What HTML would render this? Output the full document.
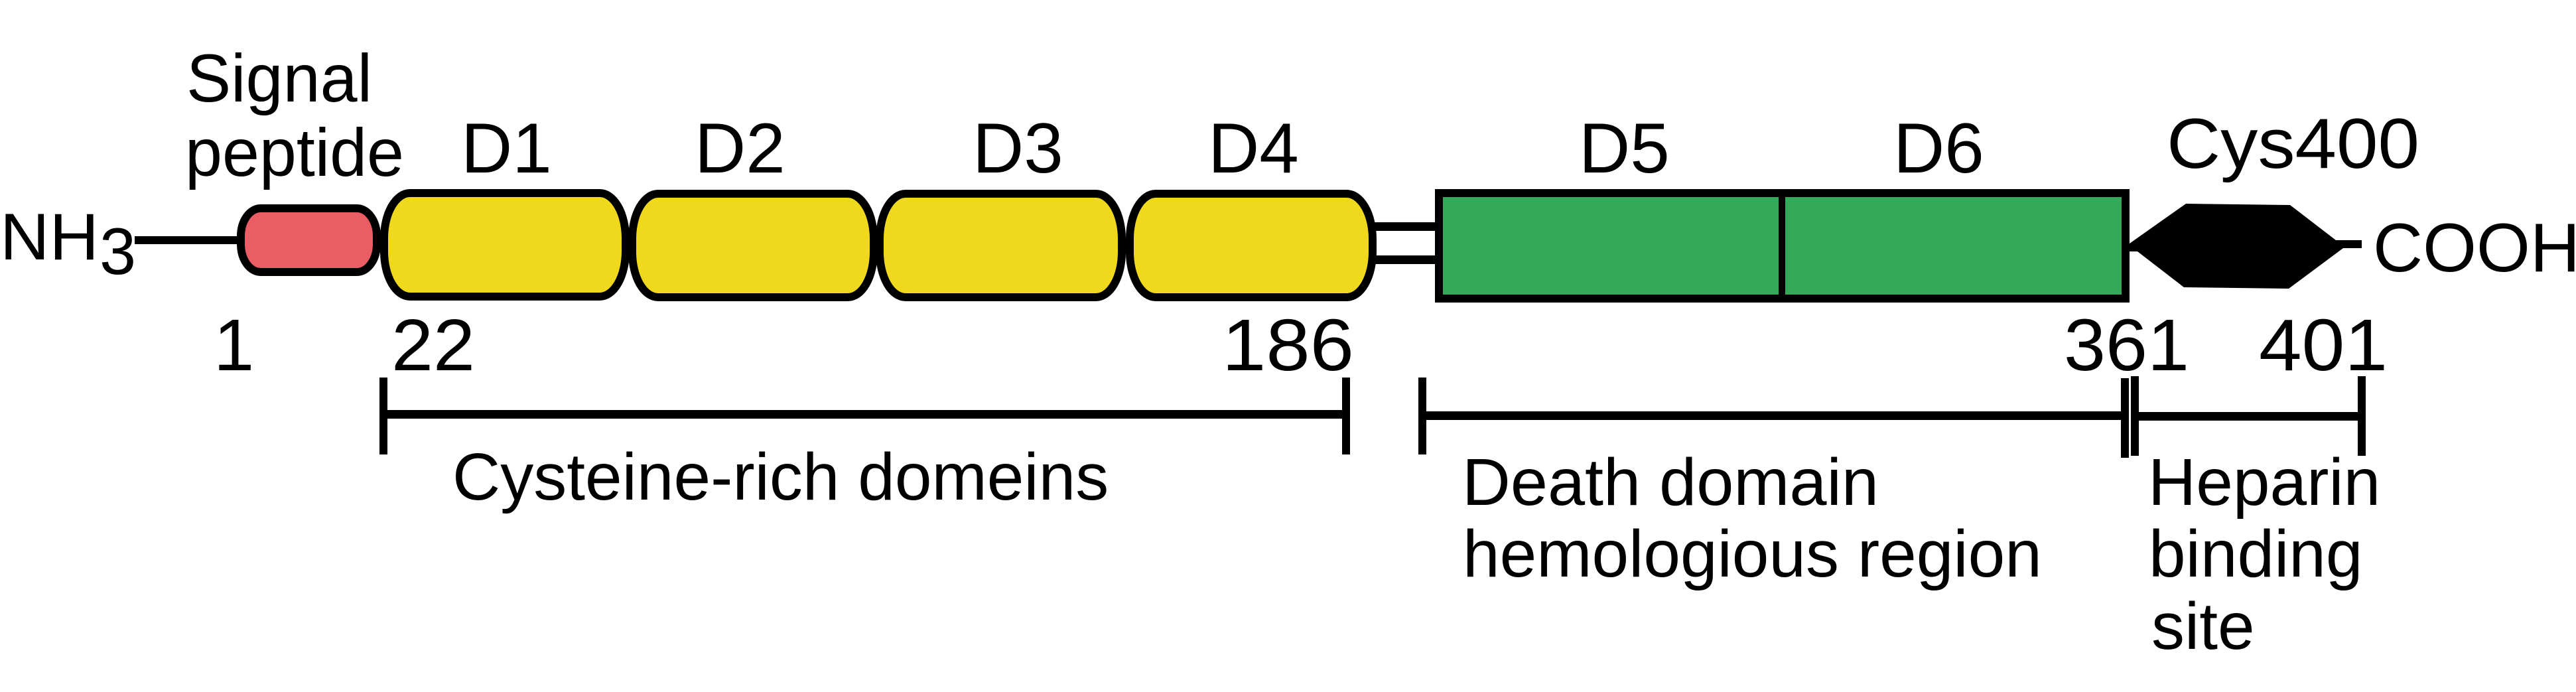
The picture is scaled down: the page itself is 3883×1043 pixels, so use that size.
<!DOCTYPE html>
<html>
<head>
<meta charset="utf-8">
<style>
  html, body { margin: 0; padding: 0; background: #ffffff; }
  svg { display: block; }
  text { font-family: "Liberation Sans", Arial, sans-serif; fill: #000; }
</style>
</head>
<body>
<svg width="3883" height="1043" viewBox="0 0 3883 1043" xmlns="http://www.w3.org/2000/svg">
  <rect x="0" y="0" width="3883" height="1043" fill="#ffffff"/>

  <!-- NH3 connector line -->
  <rect x="203" y="356" width="160" height="12" fill="#000"/>

  <!-- Linker between D4 and D5 -->
  <rect x="2066" y="335" width="104" height="13" fill="#000"/>
  <rect x="2066" y="385" width="104" height="13" fill="#000"/>

  <!-- Signal peptide (red pill) -->
  <rect x="363" y="314" width="205" height="96" rx="30" ry="42" fill="#EA5D65" stroke="#000" stroke-width="12"/>

  <!-- D1-D4 yellow pills -->
  <rect x="579" y="291" width="364" height="156" rx="39" ry="68" fill="#F0D91D" stroke="#000" stroke-width="12"/>
  <rect x="953" y="292" width="364" height="156" rx="39" ry="68" fill="#F0D91D" stroke="#000" stroke-width="12"/>
  <rect x="1326" y="292" width="365" height="156" rx="39" ry="68" fill="#F0D91D" stroke="#000" stroke-width="12"/>
  <rect x="1703" y="292" width="366" height="156" rx="39" ry="68" fill="#F0D91D" stroke="#000" stroke-width="12"/>

  <!-- D5/D6 green box -->
  <rect x="2169" y="291" width="1035" height="159" fill="#35A95A" stroke="#000" stroke-width="12"/>
  <rect x="2681" y="291" width="10" height="159" fill="#000"/>

  <!-- Cys400 hexagon + tail -->
  <polygon points="3210,367 3295,307 3452,309 3521,362 3560,362 3560,374 3532,374 3450,435 3292,433 3222,379 3210,379" fill="#000"/>

  <!-- Top labels -->
  <text x="281" y="153" font-size="102" textLength="280" lengthAdjust="spacingAndGlyphs">Signal</text>
  <text x="279" y="265" font-size="102" textLength="330" lengthAdjust="spacingAndGlyphs">peptide</text>

  <text x="695" y="260" font-size="107">D1</text>
  <text x="1047" y="260" font-size="107">D2</text>
  <text x="1466" y="260" font-size="107">D3</text>
  <text x="1821" y="260" font-size="107">D4</text>
  <text x="2380" y="260" font-size="107">D5</text>
  <text x="2854" y="260" font-size="107">D6</text>

  <text x="3266" y="253" font-size="107" textLength="381" lengthAdjust="spacingAndGlyphs">Cys400</text>

  <!-- NH3 and COOH -->
  <text x="0" y="391" font-size="99" textLength="149" lengthAdjust="spacingAndGlyphs">NH</text>
  <text x="150" y="413" font-size="99">3</text>
  <text x="3577" y="409" font-size="104">COOH</text>

  <!-- Residue numbers -->
  <text x="322" y="558" font-size="110">1</text>
  <text x="590" y="558" font-size="110" textLength="126" lengthAdjust="spacingAndGlyphs">22</text>
  <text x="1842" y="558" font-size="110" textLength="199" lengthAdjust="spacingAndGlyphs">186</text>
  <text x="3111" y="558" font-size="110" textLength="189" lengthAdjust="spacingAndGlyphs">361</text>
  <text x="3405" y="558" font-size="110" textLength="194" lengthAdjust="spacingAndGlyphs">401</text>

  <!-- Brackets -->
  <rect x="572" y="569" width="12" height="116" fill="#000"/>
  <rect x="578" y="618" width="1451" height="13" fill="#000"/>
  <rect x="2023" y="569" width="12" height="116" fill="#000"/>

  <rect x="2138" y="569" width="12" height="116" fill="#000"/>
  <rect x="2144" y="620" width="1059" height="13" fill="#000"/>
  <rect x="3197" y="570" width="12" height="120" fill="#000"/>

  <rect x="3212" y="567" width="12" height="120" fill="#000"/>
  <rect x="3218" y="621" width="342" height="13" fill="#000"/>
  <rect x="3554" y="567" width="12" height="120" fill="#000"/>

  <!-- Bottom labels -->
  <text x="682" y="753" font-size="100">Cysteine-rich domeins</text>
  <text x="2204" y="761" font-size="100" textLength="628" lengthAdjust="spacingAndGlyphs">Death domain</text>
  <text x="2205" y="869" font-size="100">hemologious region</text>
  <text x="3238" y="761" font-size="100">Heparin</text>
  <text x="3239" y="869" font-size="100">binding</text>
  <text x="3243" y="978" font-size="100">site</text>
</svg>
</body>
</html>
